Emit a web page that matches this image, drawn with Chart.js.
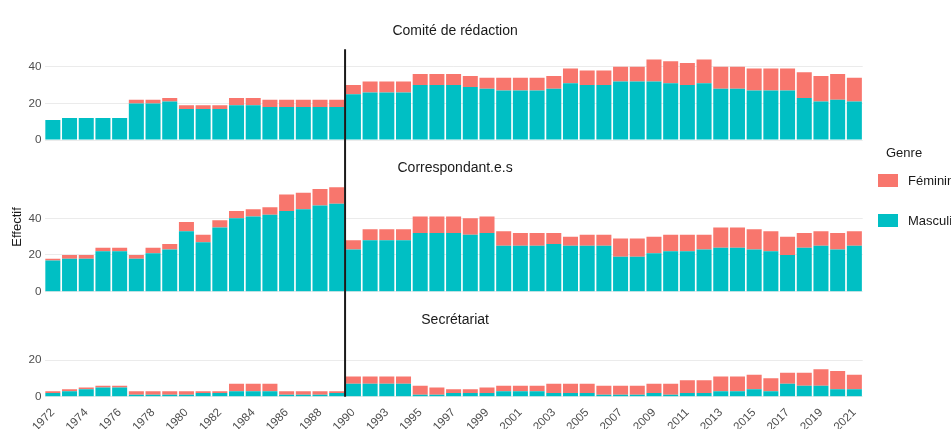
<!DOCTYPE html>
<html lang="fr">
<head>
<meta charset="utf-8">
<title>Effectifs par genre</title>
<script src="https://cdn.jsdelivr.net/npm/chart.js@4.4.1/dist/chart.umd.min.js"></script>
<style>
  html, body { margin: 0; padding: 0; background: #fff; overflow: hidden; }
  #wrap { position: relative; width: 951px; height: 429px; font-family: 'Liberation Sans', Arial, sans-serif; }
  #chart { position: absolute; left: 0; top: 0; }
  #legend { position: absolute; left: 878px; top: 144px; font-size: 13px; color: #1a1a1a; white-space: nowrap; }
  #legend .title { margin-left: 8px; height: 18px; line-height: 18px; }
  #legend .item { position: relative; height: 40px; }
  #legend .box { position: absolute; left: 0; width: 20px; height: 13px; }
  #legend .label { position: absolute; left: 30px; line-height: 15px; }
</style>
</head>
<body>
<div id="wrap">
  <canvas id="chart" width="951" height="429"></canvas>
  <div id="legend"></div>
</div>
<script>
// Data
const years = ['1972', '1973', '1974', '1975', '1976', '1977', '1978', '1979', '1980', '1981',
  '1982', '1983', '1984', '1985', '1986', '1987', '1988', '1989', '1990', '1991',
  '1993', '1994', '1995', '1996', '1997', '1998', '1999', '2000', '2001', '2002',
  '2003', '2004', '2005', '2006', '2007', '2008', '2009', '2010', '2011', '2012',
  '2013', '2014', '2015', '2016', '2017', '2018', '2019', '2020', '2021'];
const SPLIT_YEAR = '1990';

const panels = ['Comité de rédaction', 'Correspondant.e.s', 'Secrétariat'];
const genres = ['Féminin', 'Masculin'];
const COLORS = { 'Féminin': '#F8766D', 'Masculin': '#00BFC4' };

const comiteMasculin = [11, 12, 12, 12, 12, 20, 20, 21, 17, 17, 17, 19, 19, 18, 18, 18, 18, 18,
  25, 26, 26, 26, 30, 30, 30, 29, 28, 27, 27, 27, 28, 31, 30, 30, 32, 32, 32, 31, 30, 31, 28, 28, 27, 27, 27, 23, 21, 22, 21];
const comiteFeminin = [0, 0, 0, 0, 0, 2, 2, 2, 2, 2, 2, 4, 4, 4, 4, 4, 4, 4,
  5, 6, 6, 6, 6, 6, 6, 6, 6, 7, 7, 7, 7, 8, 8, 8, 8, 8, 12, 12, 12, 13, 12, 12, 12, 12, 12, 14, 14, 14, 13];

const corrMasculin = [17, 18, 18, 22, 22, 18, 21, 23, 33, 27, 35, 40, 41, 42, 44, 45, 47, 48,
  23, 28, 28, 28, 32, 32, 32, 31, 32, 25, 25, 25, 26, 25, 25, 25, 19, 19, 21, 22, 22, 23, 24, 24, 23, 22, 20, 24, 25, 23, 25];
const corrFeminin = [1, 2, 2, 2, 2, 2, 3, 3, 5, 4, 4, 4, 4, 4, 9, 9, 9, 9,
  5, 6, 6, 6, 9, 9, 9, 9, 9, 8, 7, 7, 6, 5, 6, 6, 10, 10, 9, 9, 9, 8, 11, 11, 11, 11, 10, 8, 8, 9, 8];

const secMasculin = [2, 3, 4, 5, 5, 1, 1, 1, 1, 2, 2, 3, 3, 3, 1, 1, 1, 2,
  7, 7, 7, 7, 1, 1, 2, 2, 2, 3, 3, 3, 2, 2, 2, 1, 1, 1, 2, 1, 2, 2, 3, 3, 4, 3, 7, 6, 6, 4, 4];
const secFeminin = [1, 1, 1, 1, 1, 2, 2, 2, 2, 1, 1, 4, 4, 4, 2, 2, 2, 1,
  4, 4, 4, 4, 5, 4, 2, 2, 3, 3, 3, 3, 5, 5, 5, 5, 5, 5, 5, 6, 7, 7, 8, 8, 8, 7, 6, 7, 9, 10, 8];

const panelMasculin = [comiteMasculin, corrMasculin, secMasculin];
const panelFeminin = [comiteFeminin, corrFeminin, secFeminin];

// axis ranges (units) per facet; same px per unit for all three
const PANEL_RANGE = [49.5, 82.7, 57.3];
const PANEL_TICKS = [[0, 20, 40], [0, 20, 40], [0, 20]];

// Layout
const FONT = "'Liberation Sans', Arial, sans-serif";
const TEXT = '#1a1a1a';
const TICK = '#4d4d4d';
const TITLE_Y = [31, 168, 320];

Chart.defaults.font.family = FONT;

const datasets = [];
panels.forEach((p, i) => {
  datasets.push({
    label: 'Masculin', data: panelMasculin[i], yAxisID: 'y' + i,
    backgroundColor: COLORS['Masculin']
  });
  datasets.push({
    label: 'Féminin', data: panelFeminin[i], yAxisID: 'y' + i,
    backgroundColor: COLORS['Féminin']
  });
});
datasets.forEach(d => {
  d.borderWidth = 0;
  d.barPercentage = 0.9;
  d.categoryPercentage = 1.0;
});

function yScale(i) {
  return {
    type: 'linear',
    position: 'left',
    stack: 'facets',
    stackWeight: PANEL_RANGE[i],
    weight: 3 - i,
    stacked: true,
    min: 0,
    max: PANEL_RANGE[i],
    grid: { color: '#ebebeb', lineWidth: 1, drawTicks: false },
    border: { display: false },
    ticks: { color: TICK, font: { size: 11.7 }, padding: 3 },
    afterBuildTicks: (axis) => { axis.ticks = PANEL_TICKS[i].map(v => ({ value: v })); },
    afterFit: (axis) => { axis.width = 44.5; }
  };
}

// vertical line, facet titles, y title
const facetDecor = {
  id: 'facetDecor',
  afterDatasetsDraw(chart) {
    const { ctx, chartArea, scales } = chart;
    const split = years.indexOf(SPLIT_YEAR);
    const xLine = (scales.x.getPixelForValue(split - 1) + scales.x.getPixelForValue(split)) / 2;
    ctx.save();
    ctx.strokeStyle = '#1a1a1a';
    ctx.lineWidth = 2;
    ctx.beginPath();
    ctx.moveTo(xLine, chartArea.top);
    ctx.lineTo(xLine, chartArea.bottom);
    ctx.stroke();

    ctx.fillStyle = TEXT;
    ctx.textAlign = 'center';
    ctx.textBaseline = 'middle';
    ctx.font = '14px ' + FONT;
    const cx = (chartArea.left + chartArea.right) / 2 + 1.5;
    panels.forEach((name, i) => ctx.fillText(name, cx, TITLE_Y[i]));

    ctx.font = '13px ' + FONT;
    ctx.translate(17, 227);
    ctx.rotate(-Math.PI / 2);
    ctx.fillText('Effectif', 0, 0);
    ctx.restore();
  }
};

new Chart(document.getElementById('chart'), {
  type: 'bar',
  data: { labels: years, datasets },
  options: {
    responsive: false,
    animation: false,
    layout: { padding: { top: 49.3, right: 88.3, left: 0, bottom: 0 } },
    plugins: { legend: { display: false }, tooltip: { enabled: false } },
    scales: {
      x: {
        stacked: true,
        offset: true,
        grid: { display: false },
        border: { display: false },
        ticks: {
          autoSkip: false,
          maxRotation: 45,
          minRotation: 45,
          color: TICK,
          font: { size: 11.7 },
          padding: 1,
          callback: function (v, i) { return i % 2 === 0 ? this.getLabelForValue(v) : ''; }
        },
        afterFit: (axis) => { axis.height = 32.3; }
      },
      y0: yScale(0),
      y1: yScale(1),
      y2: yScale(2)
    }
  },
  plugins: [facetDecor]
});

// Legend
const legendEl = document.getElementById('legend');
let html = '<div class="title">Genre</div>';
genres.forEach(g => {
  html += `<div class="item"><div class="box" style="top:12px;background:${COLORS[g]}"></div>` +
    `<div class="label" style="top:11px">${g}</div></div>`;
});
legendEl.innerHTML = html;
</script>
</body>
</html>
